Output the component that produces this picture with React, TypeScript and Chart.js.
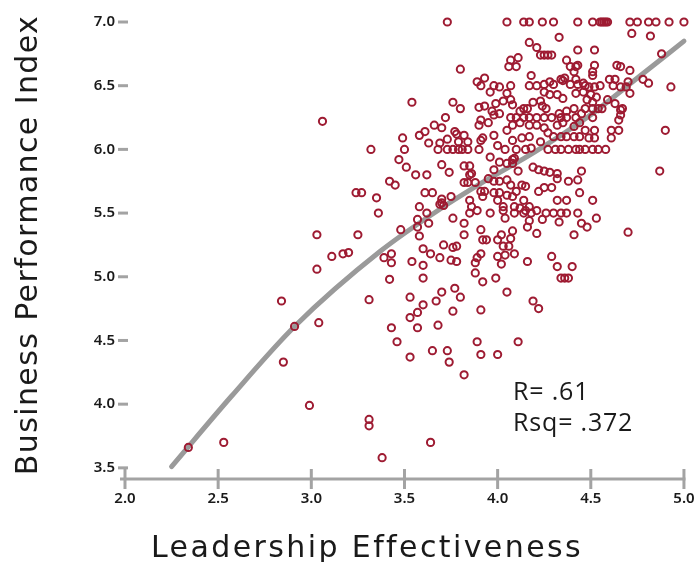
import React, { useEffect, useRef } from 'react';
import { Chart, registerables } from 'chart.js';

Chart.register(...registerables);

// ---- data ----
const leadership: number[] = [
  3.06, 3.32, 3.24, 3.27, 3.35, 3.36, 3.03, 3.25, 3.11, 3.17, 3.20, 3.03, 3.39, 2.84, 3.31, 2.91, 3.04, 2.85, 2.99, 3.31, 3.31, 2.34, 2.53, 3.38,
  3.73, 3.80, 3.89, 3.93, 3.54, 3.76, 3.80, 3.90,
  3.72, 3.91, 3.90, 3.66, 3.70, 3.49, 3.58, 3.61, 3.77, 3.78, 3.82, 3.73, 3.91, 3.63, 3.69, 3.79, 3.84, 3.50,
  3.68, 3.73, 3.76, 3.79, 3.81, 3.84, 3.90, 3.47, 3.51, 3.70, 3.74, 3.82, 3.85, 3.86, 3.85, 3.56, 3.62,
  3.82, 3.84, 3.88, 3.42, 3.45, 3.61, 3.65, 3.70, 3.69, 3.70, 3.71, 3.75, 3.85, 3.91, 3.93, 3.58,
  3.62, 3.57, 3.63, 3.57, 3.48, 3.58, 3.76, 3.82, 3.82, 3.85, 3.89, 3.86, 3.91, 3.92, 3.71, 3.76, 3.78, 3.60,
  3.43, 3.43, 3.64, 3.69, 3.54, 3.60, 3.75, 3.78, 3.88, 3.89, 3.91, 3.88, 3.42, 3.60, 3.92, 3.77, 3.70, 3.80,
  3.53, 3.60, 3.67,
  3.57, 3.53, 3.76, 3.91, 4.19, 4.22, 3.43, 3.57, 3.68, 3.46, 3.89, 4.11, 3.53, 3.65, 3.73, 3.74, 3.91, 4.00, 3.82, 3.64,
  4.05, 4.14, 4.17, 4.24, 4.30, 4.43, 4.33, 4.17, 4.21, 4.23, 4.25, 4.27, 4.29, 4.43, 4.07, 4.11, 4.06, 4.10,
  4.37, 4.39, 4.42, 4.43, 4.18, 4.41, 4.42, 4.34, 4.35, 4.36, 3.91, 3.98, 4.01, 4.07, 3.96, 4.17, 4.21, 4.25,
  4.28, 4.30, 4.39, 4.43, 4.46, 4.05, 4.25, 4.28, 4.32, 4.35, 4.42, 3.99, 4.07, 4.03, 4.08, 4.14, 4.16, 4.19,
  4.23, 4.24, 4.26, 3.93, 3.97, 4.01, 4.12, 4.37, 4.41, 4.45,
  3.98, 3.95, 4.07, 4.10, 4.14, 4.17, 4.21, 4.25, 4.29, 4.34, 4.37, 4.42, 4.33, 4.17, 4.21, 4.12, 4.05, 4.08,
  4.25, 4.27, 4.32, 4.35, 4.41, 4.44, 4.30, 4.34, 4.37, 4.41, 4.44, 3.98, 3.92, 4.08, 4.13, 4.17, 4.23, 4.00,
  4.04, 3.96, 4.10, 4.15, 4.18, 4.27, 4.31, 4.34, 4.38, 4.42, 4.44, 4.01, 4.05, 4.08, 4.09, 4.08, 3.98, 4.11,
  4.19, 4.22, 4.25, 4.28, 4.32, 4.45, 3.95, 3.98, 4.01, 4.05, 4.07, 4.13, 4.15, 4.25, 4.32, 4.38, 4.43, 3.98,
  4.01, 4.10, 4.22, 4.29, 3.92, 4.05, 4.08, 4.00, 4.14, 4.32, 4.37, 4.17, 4.09, 4.03,
  3.96, 4.03, 4.04, 4.09, 4.12, 4.15, 4.14, 4.18, 4.21, 4.17, 4.16, 4.24, 4.26, 4.30, 4.34, 4.37, 4.33, 4.43,
  4.45, 3.94, 4.02, 4.00, 4.03, 4.06, 4.07, 4.08, 4.21, 4.41, 4.00, 4.04, 4.02, 4.09, 4.16, 4.29, 4.32, 4.40,
  4.34, 4.36, 4.38, 3.99, 4.05,
  4.51, 4.55, 4.56, 4.57, 4.58, 4.59, 4.71, 4.75, 4.81, 4.85, 4.92, 5.00, 4.72, 4.82, 4.52, 4.88, 4.64, 4.66,
  4.52, 4.51, 4.51, 4.71, 4.60, 4.63, 4.70, 4.78, 4.81, 4.93, 4.62, 4.66, 4.69, 4.71, 4.47, 4.49, 4.52, 4.55,
  4.46, 4.50, 4.53, 4.48, 4.51, 4.59, 4.63, 4.47, 4.51, 4.54, 4.66, 4.67, 4.56,
  4.51, 4.65, 4.66, 4.47, 4.52, 4.61, 4.65, 4.90, 4.49, 4.52, 4.61, 4.47, 4.51, 4.54, 4.58, 4.87, 4.51, 4.44,
  4.48, 4.53, 4.70,
];

const performance: number[] = [
  6.22, 6.00, 5.66, 5.66, 5.62, 5.50, 5.33, 5.33, 5.16, 5.18, 5.19, 5.06, 5.15, 4.81, 4.82, 4.61, 4.64, 4.33, 3.99, 3.88, 3.83, 3.66, 3.70, 3.58,
  7.00, 6.63, 6.53, 6.56, 6.37, 6.37, 6.32, 6.33,
  6.25, 6.23, 6.19, 6.19, 6.17, 6.09, 6.11, 6.14, 6.14, 6.12, 6.11, 6.08, 6.07, 6.05, 6.05, 6.06, 6.06, 6.00,
  6.00, 6.00, 6.00, 6.00, 6.00, 6.00, 6.00, 5.92, 5.86, 5.88, 5.82, 5.87, 5.87, 5.81, 5.80, 5.80, 5.80,
  5.74, 5.74, 5.74, 5.75, 5.72, 5.66, 5.66, 5.61, 5.57, 5.58, 5.56, 5.63, 5.60, 5.67, 5.67, 5.55,
  5.50, 5.45, 5.42, 5.39, 5.37, 5.32, 5.46, 5.42, 5.33, 5.50, 5.52, 5.55, 5.37, 5.29, 5.25, 5.23, 5.24, 5.22,
  5.18, 5.11, 5.18, 5.15, 5.12, 5.09, 5.13, 5.12, 5.11, 5.15, 5.18, 5.03, 4.98, 4.99, 4.96, 4.91, 4.88, 4.84,
  4.84, 4.78, 4.81,
  4.72, 4.68, 4.73, 4.74, 4.81, 4.75, 4.60, 4.60, 4.62, 4.49, 4.49, 4.49, 4.37, 4.42, 4.42, 4.33, 4.39, 4.39, 4.23, 3.70,
  7.00, 7.00, 7.00, 7.00, 7.00, 7.00, 6.88, 6.84, 6.80, 6.74, 6.74, 6.74, 6.74, 6.78, 6.70, 6.72, 6.65, 6.65,
  6.70, 6.65, 6.65, 6.66, 6.58, 6.61, 6.55, 6.55, 6.54, 6.56, 6.50, 6.50, 6.49, 6.50, 6.45, 6.50, 6.50, 6.51,
  6.53, 6.51, 6.51, 6.51, 6.52, 6.44, 6.45, 6.43, 6.43, 6.40, 6.44, 6.36, 6.39, 6.38, 6.35, 6.32, 6.32, 6.37,
  6.38, 6.34, 6.32, 6.34, 6.30, 6.28, 6.30, 6.30, 6.32, 6.28,
  6.27, 6.21, 6.25, 6.25, 6.25, 6.25, 6.25, 6.25, 6.25, 6.25, 6.25, 6.25, 6.28, 6.19, 6.19, 6.21, 6.15, 6.19,
  6.17, 6.13, 6.19, 6.21, 6.18, 6.21, 6.10, 6.10, 6.10, 6.10, 6.10, 6.11, 6.09, 6.07, 6.09, 6.10, 6.06, 6.03,
  6.00, 5.94, 6.00, 6.00, 6.01, 6.00, 6.00, 6.00, 6.00, 6.00, 6.00, 5.90, 5.89, 5.92, 5.93, 5.89, 5.84, 5.83,
  5.86, 5.84, 5.83, 5.82, 5.81, 5.83, 5.77, 5.75, 5.75, 5.76, 5.72, 5.72, 5.71, 5.70, 5.77, 5.75, 5.76, 5.66,
  5.66, 5.67, 5.67, 5.70, 5.63, 5.64, 5.63, 5.60, 5.60, 5.60, 5.60, 5.55, 5.55, 5.55,
  5.50, 5.52, 5.46, 5.50, 5.54, 5.52, 5.50, 5.50, 5.52, 5.44, 5.39, 5.45, 5.50, 5.50, 5.50, 5.50, 5.43, 5.50,
  5.42, 5.29, 5.33, 5.29, 5.24, 5.24, 5.30, 5.36, 5.34, 5.33, 5.16, 5.17, 5.10, 5.18, 5.12, 5.16, 5.08, 5.08,
  4.99, 4.99, 4.99, 4.99, 4.88,
  7.00, 7.00, 7.00, 7.00, 7.00, 7.00, 7.00, 7.00, 7.00, 7.00, 7.00, 7.00, 6.91, 6.89, 6.78, 6.75, 6.66, 6.65,
  6.66, 6.58, 6.61, 6.62, 6.55, 6.55, 6.53, 6.55, 6.52, 6.49, 6.50, 6.49, 6.49, 6.44, 6.50, 6.49, 6.49, 6.50,
  6.45, 6.43, 6.41, 6.39, 6.37, 6.39, 6.36, 6.32, 6.32, 6.32, 6.31, 6.32, 6.32,
  6.25, 6.23, 6.27, 6.15, 6.15, 6.15, 6.15, 6.15, 6.09, 6.09, 6.09, 6.00, 6.00, 6.00, 6.00, 5.83, 5.60, 5.66,
  5.39, 5.46, 5.35,
];

// fitted curve
const fitX: number[] = [2.25, 2.57, 2.91, 3.37, 3.70, 3.93, 4.20, 4.47, 4.75, 5.0];
const fitY: number[] = [3.51, 4.06, 4.61, 5.20, 5.54, 5.75, 5.98, 6.24, 6.56, 6.85];

const xTicks: number[] = [2.0, 2.5, 3.0, 3.5, 4.0, 4.5, 5.0];
const yTicks: number[] = [3.5, 4.0, 4.5, 5.0, 5.5, 6.0, 6.5, 7.0];

const xTitle = 'Leadership Effectiveness';
const yTitle = 'Business Performance Index';
const statLines: string[] = ['R= .61', 'Rsq= .372'];
const statX = 4.083;
const statY: number[] = [4.033, 3.79];

// ---- styles ----
const RED = '#9e1b32';
const AXIS = '#a3a3a3';
const FIT = '#9a9a9a';
const TEXT = '#1a1a1a';

const axesPlugin = {
  id: 'customAxes',
  beforeDatasetsDraw(chart: any) {
    const { ctx, chartArea, scales } = chart;
    const x = scales.x;
    const y = scales.y;
    ctx.save();
    ctx.strokeStyle = AXIS;
    ctx.lineWidth = 3;
    ctx.lineCap = 'butt';
    ctx.beginPath();
    ctx.moveTo(chartArea.left, chartArea.bottom);
    ctx.lineTo(x.getPixelForValue(xTicks[xTicks.length - 1]) + 1.5, chartArea.bottom);
    ctx.stroke();
    xTicks.forEach((v) => {
      const px = x.getPixelForValue(v);
      ctx.beginPath();
      ctx.moveTo(px, chartArea.bottom - 10);
      ctx.lineTo(px, chartArea.bottom + 10);
      ctx.stroke();
    });
    yTicks.forEach((v) => {
      const py = y.getPixelForValue(v);
      ctx.beginPath();
      ctx.moveTo(chartArea.left - 2, py);
      ctx.lineTo(chartArea.left + 8, py);
      ctx.stroke();
    });
    ctx.restore();
  },
  afterDraw(chart: any) {
    const { ctx, scales } = chart;
    ctx.save();
    ctx.fillStyle = TEXT;
    ctx.font = '400 25px "Open Sans"';
    (ctx as any).letterSpacing = '0.8px';
    ctx.textAlign = 'left';
    ctx.textBaseline = 'alphabetic';
    statLines.forEach((s, i) => {
      ctx.fillText(s, scales.x.getPixelForValue(statX), scales.y.getPixelForValue(statY[i]));
    });
    ctx.font = '400 30px "DejaVu Sans"';
    ctx.textAlign = 'center';
    (ctx as any).letterSpacing = '2.4px';
    ctx.fillText(xTitle, 367, 557);
    (ctx as any).letterSpacing = '1.4px';
    ctx.translate(37, 245);
    ctx.rotate(-Math.PI / 2);
    ctx.fillText(yTitle, 0, 0);
    ctx.restore();
  },
};

export default function App() {
  const ref = useRef<HTMLCanvasElement>(null);
  useEffect(() => {
    const canvas = ref.current!;
    const chart = new Chart(canvas, {
      type: 'scatter',
      data: {
        datasets: [
          {
            type: 'scatter',
            label: 'Respondents',
            data: leadership.map((x, i) => ({ x, y: performance[i] })),
            pointStyle: 'circle',
            pointRadius: 3.6,
            pointBorderWidth: 2,
            borderColor: RED,
            backgroundColor: 'rgba(0,0,0,0)',
            order: 0,
            clip: false,
          } as any,
          {
            type: 'line',
            label: 'Fit',
            data: fitX.map((x, i) => ({ x, y: fitY[i] })),
            borderColor: FIT,
            borderWidth: 5,
            pointRadius: 0,
            cubicInterpolationMode: 'monotone',
            borderCapStyle: 'round',
            fill: false,
            order: 1,
            clip: false,
          } as any,
        ],
      },
      options: {
        animation: false,
        responsive: false,
        devicePixelRatio: 1,
        layout: { padding: { top: 12, right: 13, left: 0, bottom: 0 } },
        plugins: { legend: { display: false }, tooltip: { enabled: false }, title: { display: false } },
        scales: {
          x: {
            type: 'linear',
            min: 1.9732,
            max: 5.011,
            afterBuildTicks: (s: any) => { s.ticks = xTicks.map((v) => ({ value: v })); },
            afterFit: (s: any) => { s.height = 83; s.paddingLeft = 0; s.paddingRight = 0; },
            grid: { display: false, drawTicks: false },
            border: { display: false },
            ticks: {
              padding: 11,
              color: TEXT,
              font: { family: '"Noto Sans"', size: 15, weight: '600' },
              callback: (v: any) => Number(v).toFixed(1),
            },
          },
          y: {
            type: 'linear',
            min: 3.4125,
            max: 7.0785,
            afterBuildTicks: (s: any) => { s.ticks = yTicks.map((v) => ({ value: v })); },
            afterFit: (s: any) => { s.width = 120; s.paddingTop = 0; s.paddingBottom = 0; },
            grid: { display: false, drawTicks: false },
            border: { display: false },
            ticks: {
              padding: 5,
              color: TEXT,
              font: { family: '"Noto Sans"', size: 15, weight: '600' },
              callback: (v: any) => Number(v).toFixed(1),
            },
          },
        },
      },
      plugins: [axesPlugin],
    });
    return () => chart.destroy();
  }, []);
  return (
    <div style={{ position: 'fixed', left: 0, top: 0, width: 699, height: 562, background: '#fff' }}>
      <canvas ref={ref} width={699} height={562} style={{ display: 'block', width: 699, height: 562 }} />
    </div>
  );
}
